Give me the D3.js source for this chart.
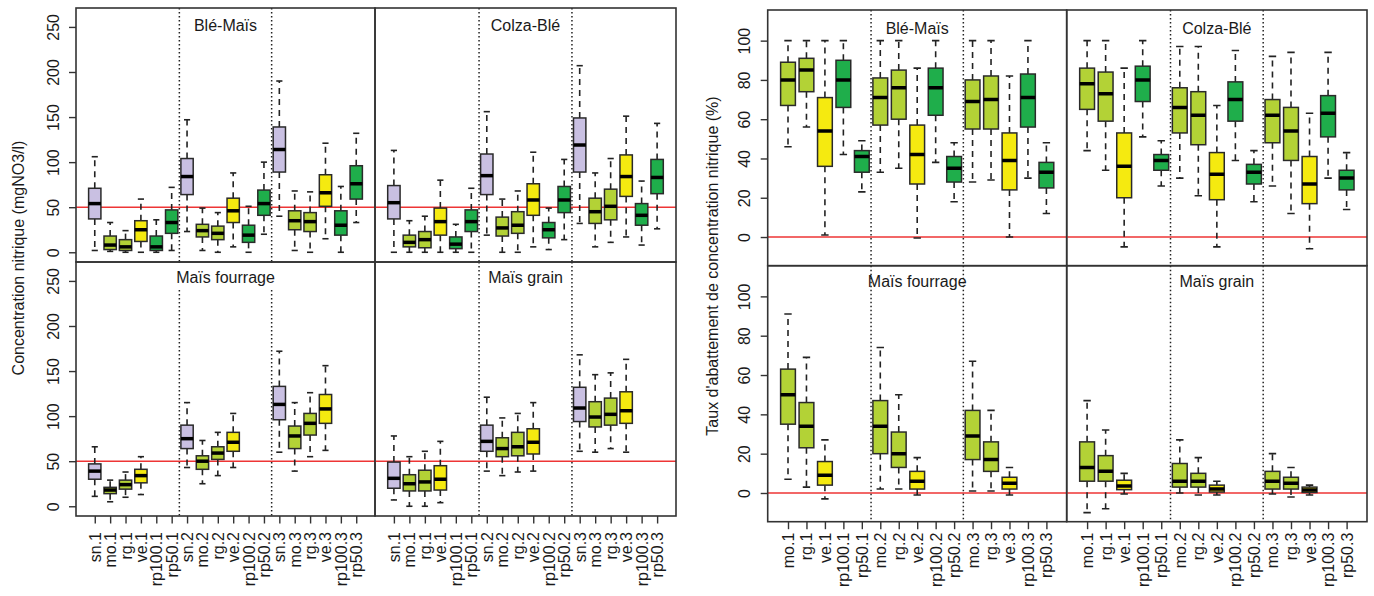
<!DOCTYPE html>
<html>
<head>
<meta charset="utf-8">
<script src="https://cdn.jsdelivr.net/npm/d3@7"></script>
<style>
  html, body { margin: 0; padding: 0; background: #fff; }
  svg { display: block; }
  text { font-family: "Liberation Sans", Arial, sans-serif; fill: #1a1a1a; }
</style>
</head>
<body>
<svg id="chart" width="1374" height="596"></svg>
<script>
// ---------------- DATA ----------------
const leftCategories = ["sn.1","mo.1","rg.1","ve.1","rp100.1","rp50.1",
                        "sn.2","mo.2","rg.2","ve.2","rp100.2","rp50.2",
                        "sn.3","mo.3","rg.3","ve.3","rp100.3","rp50.3"];
const rightCategories = ["mo.1","rg.1","ve.1","rp100.1","rp50.1",
                         "mo.2","rg.2","ve.2","rp100.2","rp50.2",
                         "mo.3","rg.3","ve.3","rp100.3","rp50.3"];
const facetNames = ["Blé-Maïs", "Colza-Blé", "Maïs fourrage", "Maïs grain"];
const leftTicks = [0, 50, 100, 150, 200, 250];
const rightTicks = [0, 20, 40, 60, 80, 100];
const leftTitle = "Concentration nitrique (mgNO3/l)";
const rightTitle = "Taux d'abattement de concentration nitrique (%)";
const leftRef = 50;
const rightRef = 0;

// each box: [lower whisker, q1, median, q3, upper whisker]
const concBleMais = [
  [2,37,54,71,106],[1,3,8,18,33],[0,2,6,14,24],[0,12,25,35,59],[0,2,6,18,36],[2,21,33,47,72],
  [23,64,84,104,147],[2,17,24,31,49],[0,14,21,29,44],[6,33,46,60,88],[0,11,19,30,51],[20,41,54,69,100],
  [40,89,114,139,190],[2,25,35,46,68],[0,23,34,44,67],[15,51,66,86,121],[0,19,30,46,73],[33,59,76,96,132]
];
const concColzaBle = [
  [0,37,55,74,113],[0,6,11,19,35],[0,5,14,23,40],[0,19,34,49,80],[0,4,9,17,31],[0,23,34,47,71],
  [19,64,85,109,156],[0,18,27,39,59],[0,21,30,45,68],[6,41,58,76,111],[3,16,25,33,49],[14,44,58,73,103],
  [32,89,119,149,207],[6,32,45,60,88],[11,36,51,70,104],[17,62,84,108,151],[8,30,41,54,79],[26,65,83,103,143]
];
const concFourrage = [
  [11,30,39,47,66],[5,14,18,21,29],[10,19,24,29,38],[13,26,34,41,55],null,null,
  [43,64,75,90,115],[25,41,50,56,73],[34,52,59,66,82],[43,61,71,82,103],null,null,
  [60,96,113,133,172],[39,64,78,89,115],[55,79,92,103,126],[62,92,108,124,156],null,null
];
const concGrain = [
  [7,20,31,49,78],[0,17,25,35,55],[0,17,27,40,61],[4,18,30,45,72],null,null,
  [39,61,72,90,121],[34,55,64,76,98],[38,56,66,82,103],[39,58,71,86,115],null,null,
  [61,94,109,132,168],[60,88,99,116,146],[64,90,102,120,148],[60,92,106,127,163],null,null
];
const abatBleMais = [
  [46,67,80,89,100],[56,74,85,91,100],[1,36,54,71,100],[42,66,80,90,100],[23,33,41,44,49],
  [33,57,71,81,100],[35,60,76,85,100],[-0.5,27,42,57,86],[38,62,76,86,100],[18,28,35,41,48],
  [28,55,69,80,100],[29,55,70,82,100],[0,24,39,53,82],[30,56,71,83,100],[12,25,33,38,48]
];
const abatColzaBle = [
  [44,65,78,86,100],[34,59,73,84,100],[-5,20,36,53,86],[51,69,80,87,100],[26,34,39,42,49],
  [30,53,66,76,97],[21,47,62,74,97],[-5,19,32,43,67],[39,59,70,79,95],[18,27,33,37,44],
  [26,48,62,70,92],[12,39,54,66,94],[-6,17,27,41,63],[30,51,63,72,94],[14,24,30,34,43]
];
const abatFourrage = [
  [7,35,50,63,91],[3,23,34,46,69],[-3,4,9,16,27],null,null,
  [2,20,34,47,74],[2,13,20,31,50],[-1,2,6,11,18],null,null,
  [1,17,29,42,67],[1,11,17,26,42],[-1,2,5,8,13],null,null
];
const abatGrain = [
  [-10,6,13,26,47],[-8,6,11,19,32],[-0.5,1.7,3.5,6.5,10],null,null,
  [0,3,6,15,27],[-1,3,6,10,18],[-1,0.5,2,4,6],null,null,
  [-0.5,2,6,11,20],[-2,2,5,8,13],[-1,0.3,1.5,3,4],null,null
];

const groupColors = { sn: "#C9C0E2", mo: "#B3D236", rg: "#B3D236", ve: "#F5EA10", rp100: "#1FAE4B", rp50: "#1FAE4B" };

// ---------------- DRAW ----------------
const svg = d3.select("#chart");
svg.append("rect").attr("width", 1374).attr("height", 596).attr("fill", "#fff");

function drawPanel(cfg) {
  const g = svg.append("g");
  const cols = [[cfg.x0, cfg.xm], [cfg.xm, cfg.x1]];
  const rows = [[cfg.y0, cfg.ym], [cfg.ym, cfg.y1]];
  cfg.facets.forEach((f, fi) => {
    const col = fi % 2, row = Math.floor(fi / 2);
    const [fx0, fx1] = cols[col];
    const [fy0, fy1] = rows[row];
    const x = d3.scalePoint().domain(cfg.categories).range([fx0, fx1]).padding(cfg.padding);
    const y = d3.scaleLinear().domain(cfg.yDomain).range([fy1, fy0]);
    const step = x.step();
    const bw = step * 0.8;
    const fg = g.append("g");

    const clipId = "clip" + cfg.id + fi;
    fg.append("clipPath").attr("id", clipId).append("rect")
      .attr("x", fx0).attr("y", fy0).attr("width", fx1 - fx0).attr("height", fy1 - fy0);
    const inner = fg.append("g").attr("clip-path", `url(#${clipId})`);

    // reference line
    inner.append("line").attr("x1", fx0).attr("x2", fx1)
      .attr("y1", y(cfg.ref)).attr("y2", y(cfg.ref))
      .attr("stroke", "#EE3535").attr("stroke-width", 1.5);

    // dividers
    cfg.dividers.forEach(i => {
      const dx = (x(cfg.categories[i]) + x(cfg.categories[i + 1])) / 2;
      inner.append("line").attr("x1", dx).attr("x2", dx).attr("y1", fy0).attr("y2", fy1)
        .attr("stroke", "#222").attr("stroke-width", 1.5).attr("stroke-dasharray", "1.5,2.5");
    });

    // boxes
    cfg.categories.forEach((c, i) => {
      const s = f.stats[i];
      if (!s) return;
      const [lo, q1, med, q3, hi] = s;
      const cx = x(c);
      const color = groupColors[c.split(".")[0]];
      const bg = inner.append("g");
      bg.append("line").attr("x1", cx).attr("x2", cx).attr("y1", y(q3)).attr("y2", y(hi))
        .attr("stroke", "#222").attr("stroke-width", 1.6).attr("stroke-dasharray", "6,5");
      bg.append("line").attr("x1", cx).attr("x2", cx).attr("y1", y(q1)).attr("y2", y(lo))
        .attr("stroke", "#222").attr("stroke-width", 1.6).attr("stroke-dasharray", "6,5");
      [hi, lo].forEach(v => {
        bg.append("line").attr("x1", cx - bw / 4).attr("x2", cx + bw / 4).attr("y1", y(v)).attr("y2", y(v))
          .attr("stroke", "#222").attr("stroke-width", 1.6);
      });
      bg.append("rect").attr("x", cx - bw / 2).attr("width", bw)
        .attr("y", y(q3)).attr("height", Math.max(0.5, y(q1) - y(q3)))
        .attr("fill", color).attr("stroke", "#2a2a2a").attr("stroke-width", 1.5);
      bg.append("line").attr("x1", cx - bw / 2).attr("x2", cx + bw / 2).attr("y1", y(med)).attr("y2", y(med))
        .attr("stroke", "#000").attr("stroke-width", 3.5);
    });

    // facet label
    const ly = row === 0 ? fy0 + cfg.labelDy[0] : fy0 + cfg.labelDy[1];
    const lx = (fx0 + fx1) / 2;
    const lbl = fg.append("text").attr("x", lx).attr("y", ly).attr("text-anchor", "middle")
      .attr("font-size", 16).text(f.name);
    if (cfg.labelBg) {
      const bb = lbl.node().getBBox();
      fg.insert("rect", "text").attr("x", bb.x - 5).attr("y", fy0 + 1)
        .attr("width", bb.width + 10).attr("height", 27).attr("fill", "#fff");
    }

    // frame
    fg.append("rect").attr("x", fx0).attr("y", fy0).attr("width", fx1 - fx0).attr("height", fy1 - fy0)
      .attr("fill", "none").attr("stroke", "#333").attr("stroke-width", 1.6);

    // y axis on left column
    if (col === 0) {
      const ya = fg.append("g").attr("transform", `translate(${fx0},0)`)
        .call(d3.axisLeft(y).tickValues(cfg.ticks).tickSize(7).tickFormat(d3.format("d")));
      ya.select(".domain").remove();
      ya.selectAll(".tick line").attr("stroke", "#333").attr("stroke-width", 1.4);
      ya.selectAll(".tick text").attr("x", null).attr("dy", null)
        .attr("transform", `translate(${cfg.yLabelOffset},0) rotate(-90)`)
        .attr("text-anchor", "middle").attr("dominant-baseline", "central")
        .attr("font-size", 16).attr("font-family", "Liberation Sans, Arial, sans-serif").attr("fill", "#1a1a1a");
    }
    // x axis on bottom row
    if (row === 1) {
      const xa = fg.append("g").attr("transform", `translate(0,${fy1})`)
        .call(d3.axisBottom(x).tickSize(7.5));
      xa.select(".domain").remove();
      xa.selectAll(".tick line").attr("stroke", "#333").attr("stroke-width", 1.4);
      xa.selectAll(".tick text").attr("y", null).attr("dy", null)
        .attr("transform", `translate(0,${cfg.xLabelOffset}) rotate(-90)`)
        .attr("text-anchor", "end").attr("dominant-baseline", "central")
        .attr("font-size", 16).attr("font-family", "Liberation Sans, Arial, sans-serif").attr("fill", "#1a1a1a");
    }
  });

  g.append("text").attr("transform", `translate(${cfg.titleX},${cfg.titleY}) rotate(-90)`)
    .attr("text-anchor", "middle").attr("dominant-baseline", "central")
    .attr("font-size", 16).text(cfg.title);
}

drawPanel({
  id: "L", x0: 76, xm: 375, x1: 676, y0: 8, ym: 262, y1: 516,
  categories: leftCategories, padding: 1.22, yDomain: [-10.8, 271], ticks: leftTicks, ref: leftRef,
  dividers: [5, 11], labelBg: true, labelDy: [23, 20.5], yLabelOffset: -22.5, xLabelOffset: 16,
  title: leftTitle, titleX: 18, titleY: 258,
  facets: [
    { name: facetNames[0], stats: concBleMais },
    { name: facetNames[1], stats: concColzaBle },
    { name: facetNames[2], stats: concFourrage },
    { name: facetNames[3], stats: concGrain }
  ]
});

drawPanel({
  id: "R", x0: 767.7, xm: 1066.7, x1: 1367, y0: 10, ym: 265.7, y1: 521.7,
  categories: rightCategories, padding: 1.1, yDomain: [-14.6, 115.6], ticks: rightTicks, ref: rightRef,
  dividers: [4, 9], labelBg: false, labelDy: [24, 21.5], yLabelOffset: -23.5, xLabelOffset: 11,
  title: rightTitle, titleX: 712, titleY: 266,
  facets: [
    { name: facetNames[0], stats: abatBleMais },
    { name: facetNames[1], stats: abatColzaBle },
    { name: facetNames[2], stats: abatFourrage },
    { name: facetNames[3], stats: abatGrain }
  ]
});
</script>
</body>
</html>
